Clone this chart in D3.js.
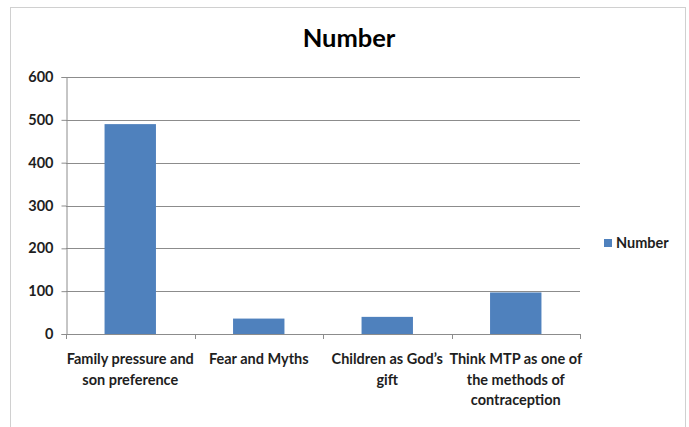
<!DOCTYPE html>
<html>
<head>
<meta charset="utf-8">
<script src="https://cdn.jsdelivr.net/npm/d3@7"></script>
<style>
  html, body { margin: 0; padding: 0; background: #fff; }
  svg { display: block; font-family: Lato, "Open Sans", sans-serif; }
</style>
</head>
<body>
<svg id="chart" width="689" height="427"></svg>
<script>
// Reasons cited, with respondent counts
const categories = [
  ["Family pressure and", "son preference"],
  ["Fear and Myths"],
  ["Children as God\u2019s", "gift"],
  ["Think MTP as one of", "the methods of", "contraception"]
];
const values = [490, 36, 40, 97];
const yTicks = [0, 100, 200, 300, 400, 500, 600];
const seriesName = "Number";

const svg = d3.select("#chart");
const margin = { left: 66, right: 580, top: 77, bottom: 334 };
const textColor = "#1e1e1e";
const axisColor = "#8c8c8c";

// chart frame
svg.append("rect")
  .attr("x", 10.5).attr("y", 7.5)
  .attr("width", 675).attr("height", 430)
  .attr("fill", "#fff").attr("stroke", "#d0d0d0");

const x = d3.scaleBand()
  .domain(d3.range(categories.length))
  .range([margin.left, margin.right])
  .paddingInner(0.6).paddingOuter(0.3);

const y = d3.scaleLinear().domain([0, 600]).range([margin.bottom, margin.top]);

// gridlines
svg.append("g")
  .selectAll("line")
  .data(yTicks.filter(d => d > 0))
  .join("line")
  .attr("x1", margin.left).attr("x2", margin.right)
  .attr("y1", d => Math.round(y(d)) + 0.5).attr("y2", d => Math.round(y(d)) + 0.5)
  .attr("stroke", axisColor).attr("stroke-width", 1);

// bars
svg.append("g")
  .selectAll("rect")
  .data(values)
  .join("rect")
  .attr("x", (d, i) => x(i))
  .attr("width", x.bandwidth())
  .attr("y", d => y(d))
  .attr("height", d => y(0) - y(d))
  .attr("fill", "#4f81bd");

// y axis
const yAxis = d3.axisLeft(y).tickValues(yTicks).tickSize(5).tickPadding(8);
const gy = svg.append("g")
  .attr("transform", `translate(${margin.left + 0.5},0)`)
  .call(yAxis);
gy.selectAll("path, line").attr("stroke", axisColor);
gy.selectAll("text")
  .attr("font-size", 14.5).attr("font-weight", 700).attr("fill", textColor)
  .attr("font-family", "Lato, sans-serif");

// x axis with ticks at category boundaries
const boundaries = d3.range(categories.length + 1)
  .map(i => margin.left + i * (margin.right - margin.left) / categories.length);
const gx = svg.append("g");
gx.append("line")
  .attr("x1", margin.left).attr("x2", margin.right)
  .attr("y1", margin.bottom + 0.5).attr("y2", margin.bottom + 0.5)
  .attr("stroke", axisColor);
gx.selectAll("line.tick")
  .data(boundaries)
  .join("line")
  .attr("class", "tick")
  .attr("x1", d => Math.round(d) + 0.5).attr("x2", d => Math.round(d) + 0.5)
  .attr("y1", margin.bottom).attr("y2", margin.bottom + 5)
  .attr("stroke", axisColor);

// category labels
const lbl = svg.append("g")
  .selectAll("text")
  .data(categories)
  .join("text")
  .attr("text-anchor", "middle")
  .attr("font-size", 14.5).attr("font-weight", 700).attr("fill", textColor)
  .attr("font-family", "Lato, sans-serif")
  .attr("transform", (d, i) => `translate(${x(i) + x.bandwidth() / 2},${margin.bottom + 30})`);
lbl.selectAll("tspan")
  .data(d => d)
  .join("tspan")
  .attr("x", 0)
  .attr("dy", (d, i) => i === 0 ? 0 : 20.5)
  .text(d => d);

// title
svg.append("text")
  .attr("x", 349).attr("y", 47)
  .attr("text-anchor", "middle")
  .attr("font-size", 25.5).attr("font-weight", 700).attr("fill", "#000")
  .attr("font-family", "Lato, sans-serif")
  .text(seriesName);

// legend
const lg = svg.append("g").attr("transform", "translate(604,243)");
lg.append("rect").attr("x", 0).attr("y", -4).attr("width", 8).attr("height", 8).attr("fill", "#4f81bd");
lg.append("text")
  .attr("x", 12).attr("y", 5)
  .attr("font-size", 14.5).attr("font-weight", 700).attr("fill", textColor)
  .attr("font-family", "Lato, sans-serif")
  .text(seriesName);
</script>
</body>
</html>
